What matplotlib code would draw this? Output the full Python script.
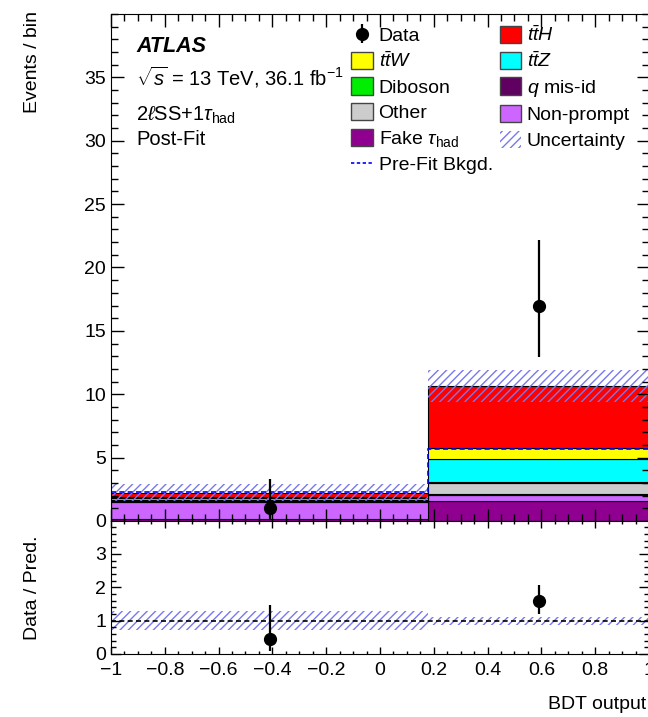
import matplotlib
matplotlib.use("Agg")
import matplotlib.pyplot as plt
import numpy as np
from matplotlib.patches import Patch
from matplotlib.lines import Line2D
from matplotlib.ticker import MultipleLocator

plt.rcParams["font.family"] = ["Liberation Sans", "DejaVu Sans"]
plt.rcParams["mathtext.fontset"] = "custom"
plt.rcParams["mathtext.rm"] = "Liberation Sans"
plt.rcParams["mathtext.it"] = "Liberation Sans:italic"
plt.rcParams["mathtext.bf"] = "Liberation Sans:bold"
plt.rcParams["hatch.linewidth"] = 1.0

# binning (BDT output)
edges = np.array([-1.0, 0.18, 1.0])

# post-fit yields per bin, stacked bottom -> top
samples = ["Fake $\\tau_{\\rm had}$", "Non-prompt", "$q$ mis-id", "Other", "Diboson",
           "$t\\bar{t}Z$", "$t\\bar{t}W$", "$t\\bar{t}H$"]
fake_tau = [0.12, 1.60]
non_prompt = [1.41, 0.45]
q_misid = [0.03, 0.05]
other = [0.08, 0.93]
diboson = [0.03, 0.08]
ttz = [0.12, 1.80]
ttw = [0.08, 0.85]
tth = [0.37, 4.90]
colors = ["#900090", "#cc66ff", "#600060", "#cccccc", "#00ee00",
          "#00ffff", "#ffff00", "#ff0000"]

prefit_bkg = [2.30, 5.66]
uncertainty = [0.65, 1.25]

data = [1, 17]
data_err_lo = [0.83, 4.1]
data_err_hi = [2.30, 5.2]

hatch_col = "#7878f0"

stack = [fake_tau, non_prompt, q_misid, other, diboson, ttz, ttw, tth]
total = np.sum(stack, axis=0)
centers = 0.5 * (edges[:-1] + edges[1:])
widths = np.diff(edges)

fig = plt.figure(figsize=(6.48, 7.17), dpi=100)
ax = fig.add_axes([0.1713, 0.2734, 0.8302, 0.7071])
rax = fig.add_axes([0.1713, 0.0879, 0.8302, 0.1855])

# stacked histogram
bottom = np.zeros(2)
handles = {}
for name, vals, c in zip(samples, stack, colors):
    ax.bar(edges[:-1], vals, width=widths, bottom=bottom, align="edge",
           color=c, edgecolor="black", linewidth=0.8)
    handles[name] = Patch(facecolor=c, edgecolor="#444444", linewidth=1.0)
    bottom = bottom + np.array(vals)

# uncertainty band
ax.bar(edges[:-1], 2 * np.array(uncertainty), width=widths, bottom=total - uncertainty,
       align="edge", fill=False, hatch="////", edgecolor=hatch_col, linewidth=0)

# pre-fit background
ax.stairs(prefit_bkg, edges, color="blue", linestyle=(0, (3, 2)), linewidth=1.2,
          baseline=None)

# data
dat = ax.errorbar(centers, data, yerr=[data_err_lo, data_err_hi], fmt="o", color="black",
                  markersize=8.5, elinewidth=1.6, capsize=0)

ax.set_xlim(-1, 1)
ax.set_ylim(0, 40)
ax.set_yticks([0, 5, 10, 15, 20, 25, 30, 35])
ax.yaxis.set_minor_locator(MultipleLocator(1))
ax.xaxis.set_major_locator(MultipleLocator(0.2))
ax.xaxis.set_minor_locator(MultipleLocator(0.05))
ax.tick_params(which="both", direction="in", top=True, right=True, labelbottom=False,
               labelsize=14)
ax.tick_params(which="major", length=9, width=1)
ax.tick_params(which="minor", length=5, width=1)

# text block
ax.text(0.047, 0.935, "ATLAS", transform=ax.transAxes, fontsize=15.5,
        fontweight="bold", fontstyle="italic", va="center")
ax.text(0.047, 0.874, "$\\sqrt{s}$ = 13 TeV, 36.1 fb$^{-1}$", transform=ax.transAxes,
        fontsize=14.5, va="center")
ax.text(0.047, 0.800, "2$\\ell$SS+1$\\tau_{\\mathrm{had}}$", transform=ax.transAxes,
        fontsize=14.5, va="center")
ax.text(0.047, 0.753, "Post-Fit", transform=ax.transAxes, fontsize=14.5, va="center")

# legend
leg_handles = [dat, handles[samples[6]], handles[samples[4]], handles[samples[3]],
               handles[samples[0]],
               Line2D([], [], color="blue", linestyle=(0, (2, 1.5)), linewidth=1.2),
               handles[samples[7]], handles[samples[5]], handles[samples[2]],
               handles[samples[1]],
               Patch(facecolor="none", hatch="////", edgecolor=hatch_col, linewidth=0)]
leg_labels = ["Data", samples[6], samples[4], samples[3], samples[0], "Pre-Fit Bkgd.",
              samples[7], samples[5], samples[2], samples[1], "Uncertainty"]
ax.legend(leg_handles, leg_labels, ncol=2, loc="upper left", bbox_to_anchor=(0.425, 1.0),
          frameon=False, fontsize=14, handlelength=1.1, handleheight=1.0,
          handletextpad=0.3, columnspacing=0.35, labelspacing=0.32, borderaxespad=0.2)

# ratio panel
ratio = np.array(data) / total
r_lo = np.array(data_err_lo) / total
r_hi = np.array(data_err_hi) / total
rel_unc = np.array(uncertainty) / total
rax.bar(edges[:-1], 2 * rel_unc, width=widths, bottom=1 - rel_unc, align="edge",
        fill=False, hatch="////", edgecolor=hatch_col, linewidth=0)
rax.axhline(1, color="black", linestyle=(0, (3, 2)), linewidth=1.2)
rax.errorbar(centers, ratio, yerr=[r_lo, r_hi], fmt="o", color="black",
             markersize=8.5, elinewidth=1.6, capsize=0)
rax.set_xlim(-1, 1)
rax.set_ylim(0, 3.99)
rax.set_yticks([0, 1, 2, 3])
rax.yaxis.set_minor_locator(MultipleLocator(0.2))
rax.set_xticks([-1, -0.8, -0.6, -0.4, -0.2, 0, 0.2, 0.4, 0.6, 0.8, 1])
rax.set_xticklabels(["\u22121", "\u22120.8", "\u22120.6", "\u22120.4", "\u22120.2", "0",
                     "0.2", "0.4", "0.6", "0.8", "1"])
rax.xaxis.set_minor_locator(MultipleLocator(0.05))
rax.tick_params(which="both", direction="in", top=True, right=True, labelsize=14)
rax.tick_params(axis="x", which="major", length=5, width=1, pad=6)
rax.tick_params(axis="x", which="minor", length=2.5, width=1)
rax.tick_params(axis="y", which="major", length=7, width=1)
rax.tick_params(axis="y", which="minor", length=3.5, width=1)

fig.text(0.998, 0.018, "BDT output", ha="right", va="center", fontsize=14)
fig.text(0.050, 0.985, "Events / bin", rotation=90, ha="center", va="top", fontsize=14)
fig.text(0.050, 0.180, "Data / Pred.", rotation=90, ha="center", va="center", fontsize=14)

fig.savefig("out.png", dpi=100)
